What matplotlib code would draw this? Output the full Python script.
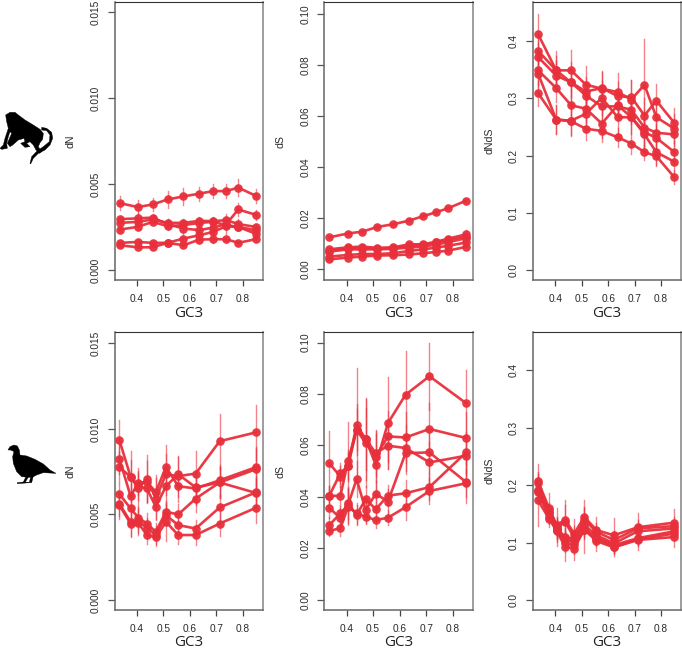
import matplotlib
matplotlib.use('Agg')
import matplotlib.pyplot as plt
from matplotlib.patches import Polygon

W, H = 682, 651
RED = '#E8303C'

# GC3 bins
gc3_primate = [0.336, 0.404, 0.46, 0.516, 0.576, 0.636, 0.688, 0.737, 0.782, 0.85]
gc3_bird = [0.335, 0.377, 0.406, 0.438, 0.472, 0.51, 0.556, 0.622, 0.712, 0.85]

# primates dN
dn_primate = [
    [.00389, .00366, .00381, .0041, .00428, .00444, .00459, .00459, .00479, .0043],
    [.00296, .003, .00305, .00267, .00241, .00232, .00247, .00267, .00352, .0032],
    [.00274, .0028, .00294, .00274, .00274, .00286, .00284, .0029, .00267, .0025],
    [.00235, .00251, .0028, .00255, .00261, .00274, .0028, .00261, .00251, .0023],
    [.00158, .00163, .00158, .00158, .00183, .00202, .00222, .00255, .0025, .0021],
    [.00144, .00132, .00132, .00158, .00144, .00177, .00179, .00179, .00158, .0018],
]
dn_primate_err = [
    [.0004, .0004, .0004, .0005, .0005, .0004, .0004, .0004, .0005, .0004],
    [.0002, .0003, .0002, .0003, .0003, .0006, .0006, .0006, .0004, .0003],
    [.0002, .0002, .0002, .0002, .0002, .0002, .0002, .0002, .0003, .0002],
    [.0002, .0002, .0002, .0002, .0002, .0002, .0002, .0002, .0002, .0002],
    [.0001, .0001, .0001, .0001, .0002, .0002, .0002, .0002, .0002, .0002],
    [.0001, .0001, .0001, .0001, .0001, .0002, .0002, .0002, .0001, .0001],
]

# primates dS
ds_primate = [
    [.01255, .014, .01477, .0166, .01765, .0191, .0208, .02235, .0239, .0269],
    [.00784, .0086, .0089, .0084, .0086, .0098, .0098, .0108, .012, .0137],
    [.0073, .0082, .0084, .0081, .0084, .0092, .0095, .0105, .0115, .0128],
    [.0069, .0078, .0078, .0078, .008, .0085, .0089, .0097, .0106, .0122],
    [.005, .0056, .006, .006, .0063, .0072, .0078, .0085, .0092, .0105],
    [.0039, .0046, .005, .0054, .0055, .0058, .0063, .0068, .0073, .0088],
]
ds_primate_err = [
    [.0004, .0004, .0004, .0005, .0005, .0005, .0005, .0005, .0006, .0006],
    [.0006, .0006, .0006, .0006, .0006, .0008, .0008, .0008, .001, .0016],
    [.0005, .0005, .0005, .0005, .0005, .0005, .0005, .0006, .0008, .001],
    [.0004, .0004, .0004, .0004, .0004, .0005, .0005, .0006, .0008, .0008],
    [.0003, .0003, .0003, .0003, .0003, .0004, .0004, .0005, .0005, .0006],
    [.0003, .0003, .0003, .0003, .0003, .0003, .0003, .0004, .0004, .0005],
]

# primates dN/dS
dnds_primate = [
    [.412, .349, .349, .324, .317, .311, .298, .324, .267, .247],
    [.383, .349, .328, .312, .318, .304, .302, .27, .296, .257],
    [.372, .34, .328, .305, .286, .286, .28, .249, .24, .237],
    [.349, .318, .288, .282, .256, .288, .267, .241, .231, .206],
    [.343, .263, .261, .273, .301, .267, .267, .237, .206, .189],
    [.309, .263, .26, .247, .243, .232, .221, .206, .199, .162],
]
dnds_primate_err = [
    [.036, .025, .035, .032, .03, .034, .035, .08, .03, .025],
    [.025, .033, .035, .025, .03, .025, .03, .03, .03, .027],
    [.025, .025, .025, .025, .025, .025, .025, .03, .025, .02],
    [.025, .025, .025, .025, .025, .025, .025, .03, .025, .02],
    [.025, .025, .025, .03, .03, .03, .03, .03, .025, .02],
    [.022, .025, .025, .02, .02, .017, .018, .013, .015, .012],
]

# birds dN
dn_bird = [
    [.00934, .0072, .00652, .00708, .00593, .00735, .00724, .00739, .00928, .0098],
    [.00825, .00607, .00685, .00691, .0063, .00778, .00665, .00652, .007, .00777],
    [.00776, .0072, .00665, .00652, .00545, .00665, .00735, .00658, .00687, .00625],
    [.00619, .00535, .00482, .00447, .00399, .00516, .005, .00593, .00687, .00765],
    [.00562, .00457, .00463, .00422, .0038, .00496, .00438, .00418, .00541, .0063],
    [.00554, .00447, .00451, .0038, .00366, .00457, .0038, .0038, .00447, .0054],
]
dn_bird_err = [
    [.0012, .0015, .0012, .0014, .0012, .0012, .0012, .0013, .0016, .0016],
    [.0009, .0008, .0007, .0012, .001, .0013, .0009, .0009, .0009, .0012],
    [.0009, .001, .0008, .0008, .0008, .0011, .001, .001, .0009, .0009],
    [.0006, .0007, .0006, .0006, .0005, .0006, .0006, .0008, .0009, .0012],
    [.0007, .0008, .0007, .0006, .0005, .0006, .0005, .0005, .0007, .0009],
    [.0008, .0008, .0007, .0005, .0005, .0011, .0005, .0006, .0007, .0009],
]

# birds dS
ds_bird = [
    [.0531, .0479, .0521, .068, .0625, .0525, .0687, .0797, .0869, .0764],
    [.0404, .0404, .054, .0661, .0609, .0557, .0635, .0631, .0664, .0629],
    [.0404, .0492, .0521, .0661, .0625, .057, .0599, .059, .0534, .056],
    [.029, .0336, .0369, .0469, .0349, .0412, .0382, .057, .0573, .0457],
    [.0358, .0317, .0375, .033, .0391, .0352, .0405, .0414, .0438, .0573],
    [.0268, .0278, .0362, .0336, .0323, .031, .0319, .036, .0423, .0453],
]
ds_bird_err = [
    [.0126, .004, .005, .022, .012, .012, .018, .017, .013, .013],
    [.004, .004, .015, .01, .017, .01, .01, .01, .01, .01],
    [.004, .004, .006, .008, .016, .009, .009, .009, .008, .008],
    [.003, .003, .007, .007, .005, .005, .005, .008, .008, .008],
    [.004, .004, .006, .004, .005, .004, .004, .005, .005, .008],
    [.002, .003, .007, .004, .003, .003, .003, .005, .005, .0055],
]

# birds dN/dS
dnds_bird = [
    [.2075, .16, .131, .14, .116, .145, .122, .113, .127, .135],
    [.203, .157, .128, .136, .109, .14, .119, .105, .125, .129],
    [.1925, .154, .125, .11, .107, .131, .113, .099, .12, .125],
    [.19, .151, .122, .105, .102, .125, .109, .096, .108, .12],
    [.188, .145, .122, .099, .096, .122, .107, .093, .106, .116],
    [.174, .142, .12, .093, .09, .123, .103, .092, .105, .11],
]
dnds_bird_err = [
    [.03, .026, .03, .035, .025, .03, .022, .03, .025, .023],
    [.02, .012, .015, .03, .02, .02, .015, .015, .015, .015],
    [.015, .012, .015, .015, .015, .015, .012, .012, .012, .012],
    [.015, .012, .015, .015, .015, .015, .012, .012, .012, .012],
    [.015, .012, .015, .015, .015, .015, .012, .012, .012, .012],
    [.045, .015, .025, .025, .02, .04, .018, .015, .018, .018],
]

dn_ticks = [0.0, 0.005, 0.010, 0.015]
ds_ticks = [0.0, 0.02, 0.04, 0.06, 0.08, 0.10]
dnds_ticks = [0.0, 0.1, 0.2, 0.3, 0.4]
gc3_ticks = [0.4, 0.5, 0.6, 0.7, 0.8]
dn_lab = ['0.000', '0.005', '0.010', '0.015']
ds_lab = ['0.00', '0.02', '0.04', '0.06', '0.08', '0.10']
dnds_lab = ['0.0', '0.1', '0.2', '0.3', '0.4']

# silhouettes, traced at 3x, offset is added afterwards
monkey_body = [(30, 37), (45, 37), (55, 45), (75, 60), (100, 75), (120, 88), (130, 100), (128, 118), (120, 128),
               (115, 140), (125, 155), (118, 160), (108, 150), (100, 135), (90, 125), (80, 130), (90, 140), (75, 142),
               (62, 130), (75, 125), (72, 115), (55, 120), (38, 135), (30, 140), (22, 130), (35, 100), (30, 95),
               (25, 110), (20, 130), (22, 145), (5, 148), (0, 145), (10, 135), (15, 115), (25, 85), (20, 65), (17, 45)]
monkey_tail = [(125, 82), (140, 85), (155, 97), (158, 115), (150, 135), (135, 150), (115, 160), (100, 175), (92, 192),
               (90, 190), (95, 170), (112, 152), (130, 140), (148, 125), (150, 105), (140, 92), (125, 90)]
duck_body = [(24, 90), (30, 80), (42, 75), (52, 78), (58, 90), (60, 105), (80, 108), (105, 118), (130, 132), (150, 150),
             (168, 160), (130, 158), (110, 165), (100, 170), (85, 172), (65, 170), (50, 155), (40, 130), (38, 110),
             (42, 95), (32, 90)]
duck_leg1 = [(78, 170), (86, 170), (76, 186), (90, 188), (52, 191), (52, 188), (70, 186)]
duck_leg2 = [(92, 170), (100, 168), (95, 188), (88, 188)]


def panel(left, top, right, bottom, ylim, yticks, ytlab, ylab, xs, series, errs):
    ax = fig.add_axes([left / W, 1 - bottom / H, (right - left) / W, (bottom - top) / H])
    for ys, es in zip(series, errs):
        for x, y, e in zip(xs, ys, es):
            ax.plot([x, x], [y - e, y + e], color=RED, lw=1.0, alpha=0.6, zorder=2, clip_on=False)
    for ys in series:
        ax.plot(xs, ys, color=RED, lw=1.9, marker='o', ms=6.2, mew=0, alpha=0.95, zorder=3)
    ax.set_xlim(0.3165, 0.875)
    ax.set_ylim(*ylim)
    ax.set_xticks(gc3_ticks)
    ax.set_xticklabels([f'{t:.1f}' for t in gc3_ticks], fontsize=7.3, color='#2a2a2a')
    ax.set_yticks(yticks)
    ax.set_yticklabels(ytlab, fontsize=7.3, color='#2a2a2a', rotation=90, va='center')
    ax.tick_params(axis='x', length=4, width=0.9, color='#444444', pad=6)
    ax.tick_params(axis='y', length=5, width=0.9, color='#555555', pad=5)
    for s in ['left', 'bottom']:
        ax.spines[s].set_color('#666666')
        ax.spines[s].set_linewidth(1.1)
    ax.spines['top'].set_color('#333333')
    ax.spines['top'].set_linewidth(0.8)
    ax.spines['right'].set_color('#8c8c8c')
    ax.spines['right'].set_linewidth(1.2)
    ax.set_ylabel(ylab, fontsize=7.6, color='#2a2a2a', va='center')
    ax.yaxis.set_label_coords(-43.5 / (right - left), 0.5)
    ax.text(0.5, -33 / (bottom - top), 'GC3', transform=ax.transAxes, ha='center', va='center',
            fontsize=11, family='Open Sans', color='#222222')
    return ax


plt.rcParams['font.family'] = ['Liberation Sans', 'DejaVu Sans']
fig = plt.figure(figsize=(W / 100, H / 100), dpi=100)

panel(114.5, 2, 263, 280, (-.00058, .01558), dn_ticks, dn_lab, 'dN', gc3_primate, dn_primate, dn_primate_err)
panel(324.3, 2, 472.8, 280, (-.00419, .1047), ds_ticks, ds_lab, 'dS', gc3_primate, ds_primate, ds_primate_err)
panel(533, 2, 681, 280, (-.0175, .4685), dnds_ticks, dnds_lab, 'dNdS', gc3_primate, dnds_primate, dnds_primate_err)
panel(114.5, 332, 263, 610, (-.00058, .01566), dn_ticks, dn_lab, 'dN', gc3_bird, dn_bird, dn_bird_err)
panel(324.3, 332, 472.8, 610, (-.00397, .1041), ds_ticks, ds_lab, 'dS', gc3_bird, ds_bird, ds_bird_err)
panel(533, 332, 681, 610, (-.0167, .466), dnds_ticks, dnds_lab, 'dNdS', gc3_bird, dnds_bird, dnds_bird_err)

# animals
over = fig.add_axes([0, 0, 1, 1])
over.set_xlim(0, W)
over.set_ylim(H, 0)
over.axis('off')
over.patch.set_alpha(0)
for pts in [monkey_body, monkey_tail]:
    over.add_patch(Polygon([(x / 3, 100 + y / 3) for x, y in pts], fc='black', ec='black', lw=0.3))
for pts in [duck_body, duck_leg1, duck_leg2]:
    over.add_patch(Polygon([(x / 3, 420 + y / 3) for x, y in pts], fc='black', ec='black', lw=0.3))

fig.savefig('out.png', dpi=100)
